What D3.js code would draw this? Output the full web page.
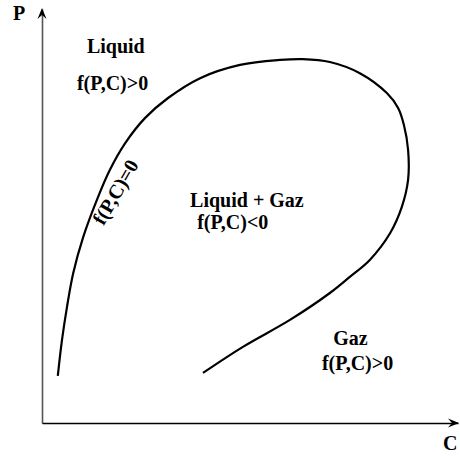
<!DOCTYPE html>
<html>
<head>
<meta charset="utf-8">
<script src="https://cdn.jsdelivr.net/npm/d3@7"></script>
<style>
  body { margin: 0; background: #fff; }
  text { font-family: "Liberation Serif", "Times New Roman", serif; font-weight: bold; fill: #000; }
</style>
</head>
<body>
<div id="chart"></div>
<script>
"use strict";

// boundary curve f(P,C)=0 (C, P in % of axis length)
var curveC = [3.8, 4.8, 6.0, 7.5, 9.9, 13.2, 16.3, 20.0, 24.8, 30.3, 38.0, 47.6, 57.2, 62.7,
              69.2, 76.4, 82.9, 85.6, 87.0, 88.0, 88.0, 86.5, 83.7, 78.8, 74.0, 69.2, 59.6, 48.3, 38.7];
var curveP = [11.4, 20.0, 28.0, 36.2, 44.9, 53.9, 61.1, 67.6, 73.7, 78.5, 83.3, 86.5, 87.7, 87.9,
              87.2, 84.5, 79.7, 76.1, 72.0, 66.0, 58.7, 52.2, 45.9, 39.4, 35.3, 31.4, 24.9, 18.4, 12.1];

// region labels and where they sit (data units)
var regionLabels = ["Liquid", "f(P,C)>0", "Liquid + Gaz", "f(P,C)<0", "Gaz", "f(P,C)>0"];
var regionC = [10.8, 8.4, 35.6, 37.3, 70.0, 67.3];
var regionP = [89.4, 80.4, 52.1, 46.9, 18.8, 12.8];

var axisNames = ["P", "C"];
var boundaryLabel = "f(P,C)=0";

var width = 460, height = 457;

var x = d3.scaleLinear().domain([0, 100]).range([42, 458]);
var y = d3.scaleLinear().domain([0, 100]).range([423, 9]);

var svg = d3.select("#chart").append("svg")
  .attr("width", width)
  .attr("height", height);

// axes, no ticks, just the spines
svg.append("g")
  .attr("transform", "translate(" + x(0) + ",0)")
  .call(d3.axisLeft(y).tickValues([]).tickSizeOuter(0))
  .select(".domain")
  .attr("stroke", "#555")
  .attr("stroke-width", 1.6);

svg.append("g")
  .attr("transform", "translate(0," + y(0) + ")")
  .call(d3.axisBottom(x).tickValues([]).tickSizeOuter(0))
  .select(".domain")
  .attr("stroke", "#000")
  .attr("stroke-width", 1.6);

// arrow heads
var tx = x(0), ty = y(100);
svg.append("path")
  .attr("d", "M" + tx + "," + (ty - 1) + "L" + (tx + 4.5) + "," + (ty + 10) +
             "L" + tx + "," + (ty + 6) + "L" + (tx - 4.5) + "," + (ty + 10) + "Z")
  .attr("fill", "#000");

var rx = x(100), ry = y(0);
svg.append("path")
  .attr("d", "M" + (rx + 1) + "," + ry + "L" + (rx - 10) + "," + (ry - 4.5) +
             "L" + (rx - 6) + "," + ry + "L" + (rx - 10) + "," + (ry + 4.5) + "Z")
  .attr("fill", "#000");

// the boundary curve
var pts = curveC.map(function(c, i) { return [c, curveP[i]]; });
var line = d3.line()
  .x(function(d) { return x(d[0]); })
  .y(function(d) { return y(d[1]); })
  .curve(d3.curveCatmullRom.alpha(0.5));

svg.append("path")
  .datum(pts)
  .attr("d", line)
  .attr("fill", "none")
  .attr("stroke", "#000")
  .attr("stroke-width", 2.2);

// region labels
for (let i = 0; i < regionLabels.length; i++) {
  svg.append("text")
    .attr("x", x(regionC[i]))
    .attr("y", y(regionP[i]))
    .style("font-size", "20px")
    .text(regionLabels[i]);
}

// label along the curve
svg.append("text")
  .attr("transform", "translate(" + x(14.8) + "," + y(47.5) + ") rotate(-60)")
  .style("font-size", "20px")
  .text(boundaryLabel);

// axis names
svg.append("text").attr("x", x(-7.0)).attr("y", y(97.3)).style("font-size", "20px").text(axisNames[0]);
svg.append("text").attr("x", x(96.4)).attr("y", y(-6.5)).style("font-size", "20px").text(axisNames[1]);
</script>
</body>
</html>
